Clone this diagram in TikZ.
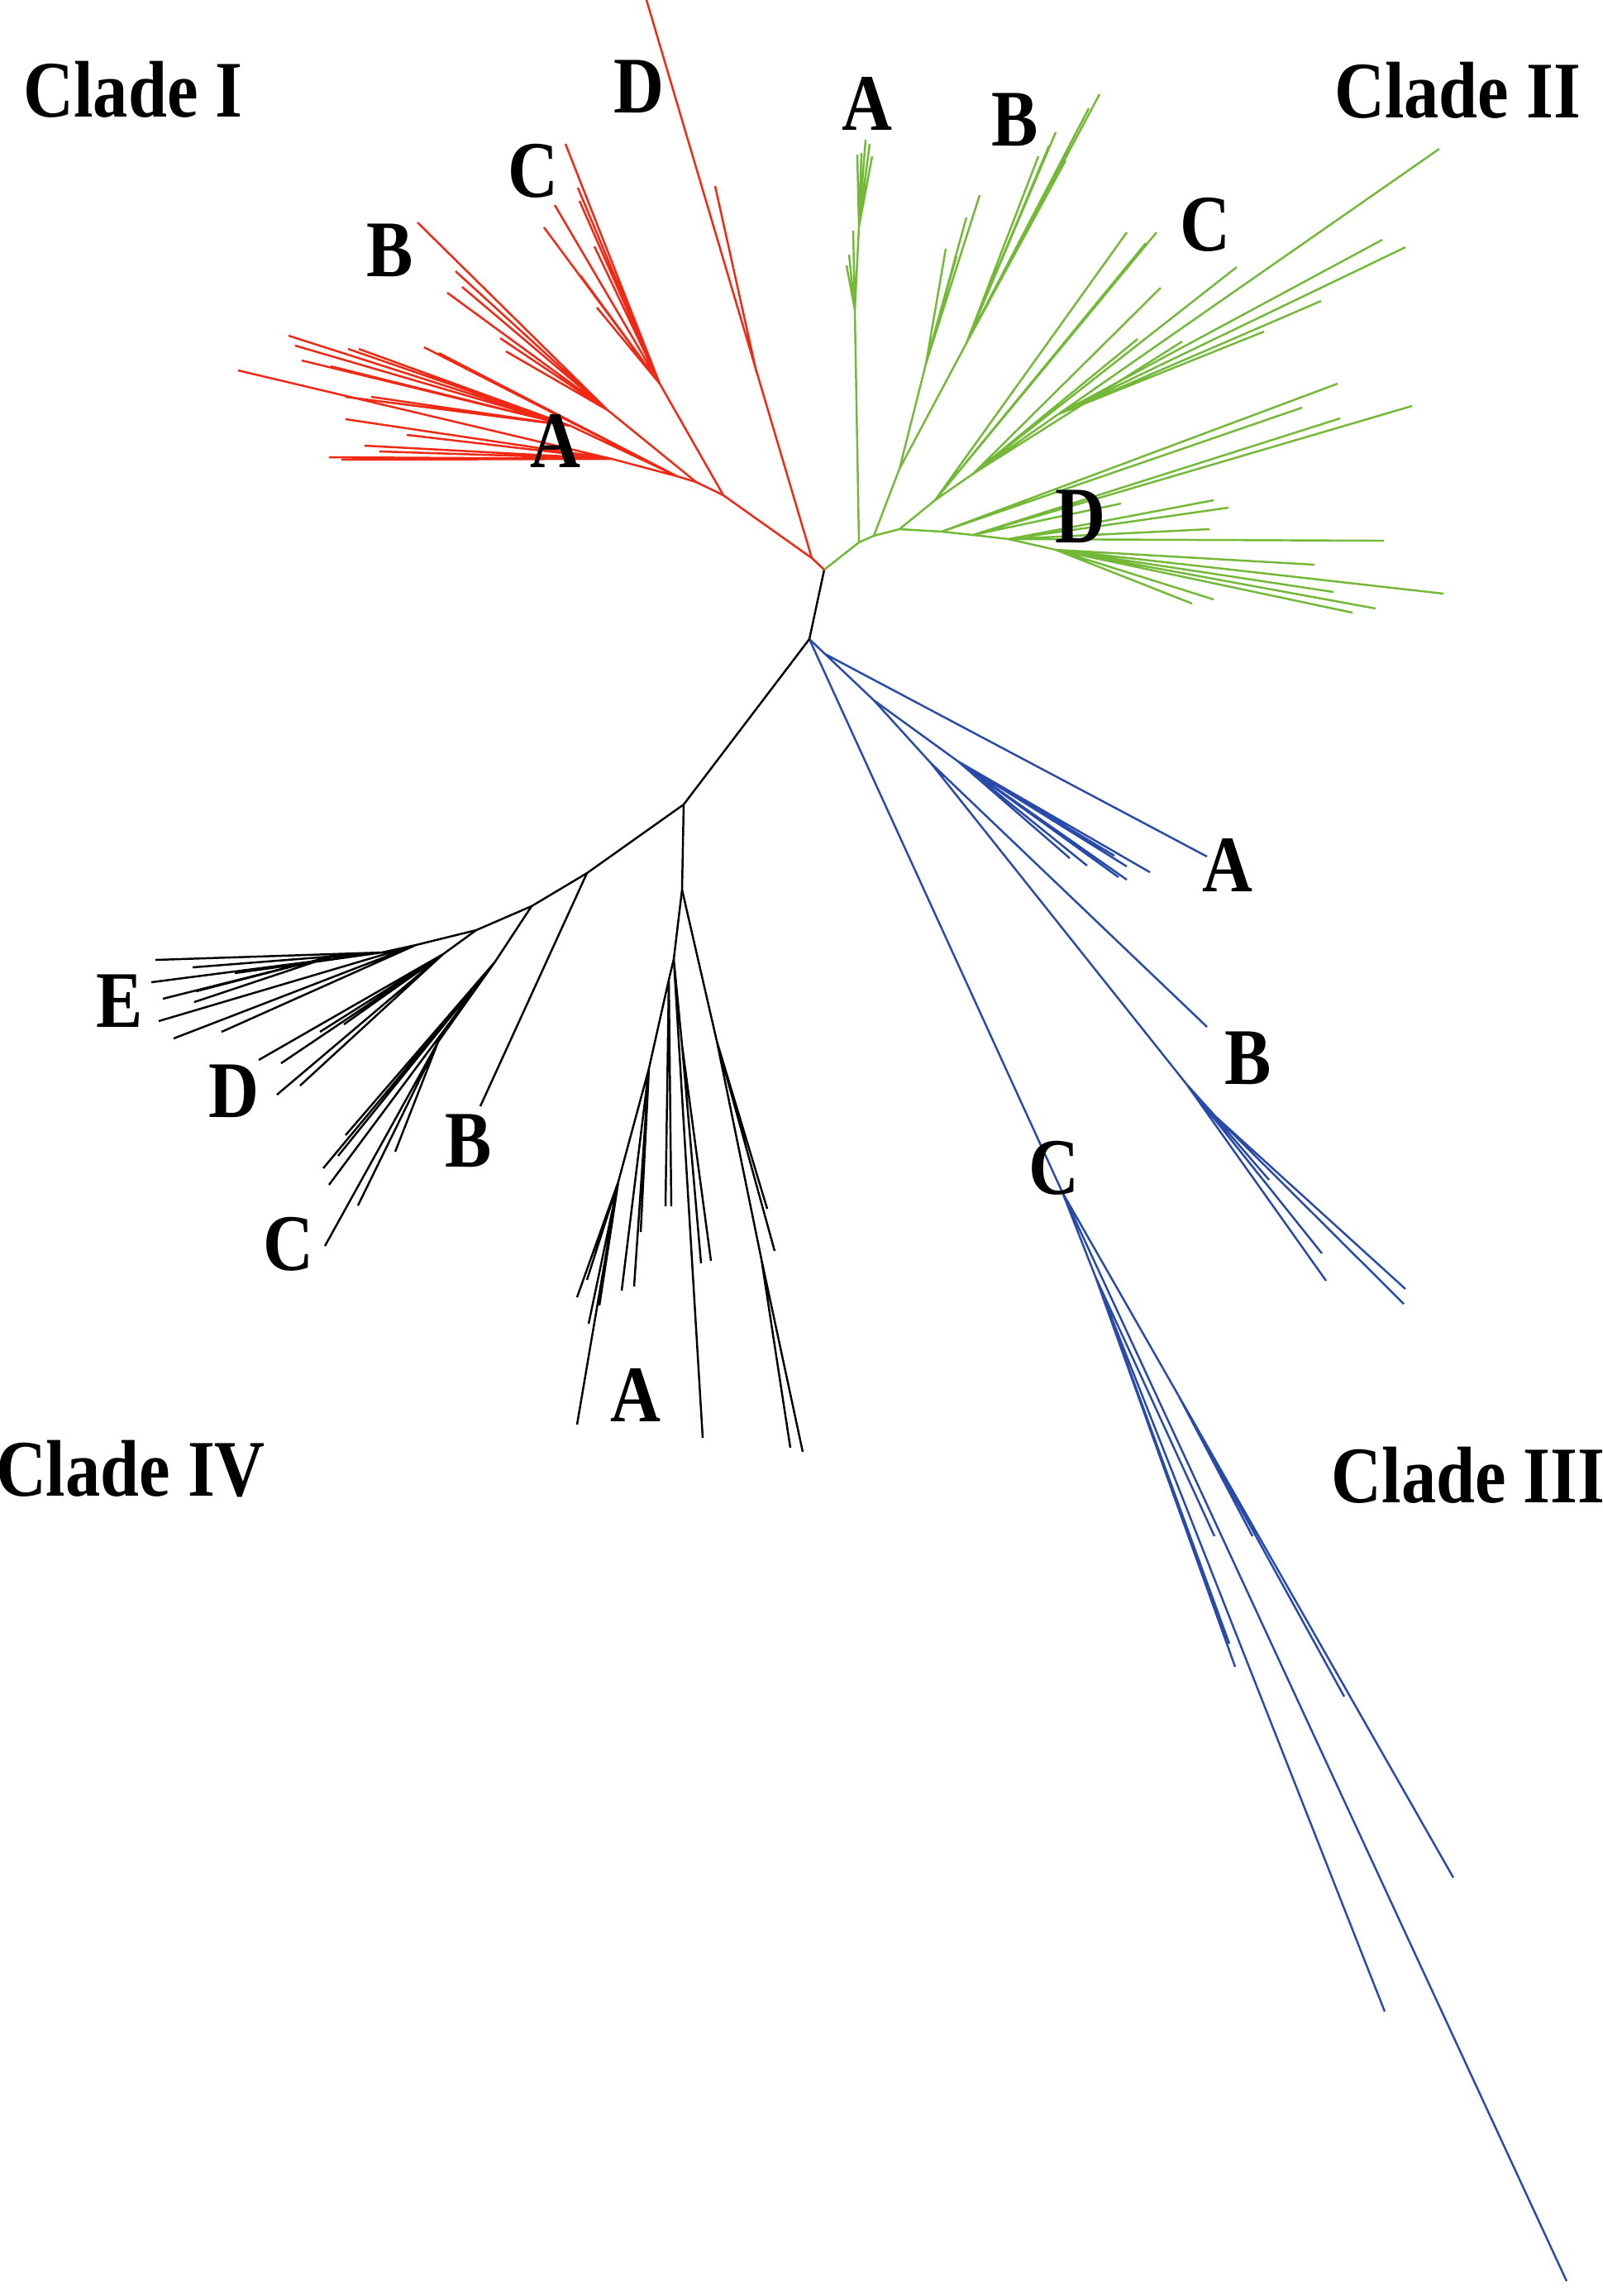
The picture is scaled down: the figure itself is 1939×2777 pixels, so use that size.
\documentclass[tikz,border=0pt]{standalone}
\usepackage{fontspec}
\setmainfont{Liberation Serif}

\definecolor{cladeRed}{RGB}{240,40,20}
\definecolor{cladeGreen}{RGB}{115,185,55}
\definecolor{cladeBlue}{RGB}{40,75,170}
\newcommand{\tall}[1]{\scalebox{1}[1.15]{#1}}

\tikzset{
  branch/.style={line width=0.7pt},
  tag/.style={font=\fontsize{24}{28}\selectfont\bfseries, inner sep=0pt},
}

\begin{document}
\begin{tikzpicture}[x=0.01cm, y=-0.01cm]
  \useasboundingbox (0,0) rectangle (1939,2777);

  % centre of the tree
  \coordinate (J1) at (997,689);
  \coordinate (J2) at (979,773);
  \draw[branch] (J1) -- (J2);

  % clade I
  \coordinate (rD) at (982,675);
  \coordinate (rDs) at (915,450);
  \coordinate (rC) at (875,599);
  \coordinate (rCn) at (798,464);
  \coordinate (rB) at (842,583);
  \coordinate (rBn) at (735,496);
  \coordinate (rA) at (819,576);
  \coordinate (rA1) at (690,515);
  \coordinate (rA2) at (740,555);
  \draw[branch,cladeRed] (J1) -- (rD) -- (rC) -- (rB) -- (rA);
  \draw[branch,cladeRed] (rD) -- (782,0) (rDs) -- (865,225);
  \draw[branch,cladeRed] (rC) -- (rCn) -- (684,174) (rCn) -- (699,227)
    (rCn) -- (701,243) (rCn) -- (719,298) (rCn) -- (671,248)
    (rCn) -- (658,275) (rCn) -- (702,333) (rCn) -- (722,372);
  \draw[branch,cladeRed] (rB) -- (rBn) -- (505,269) (rBn) -- (551,328)
    (rBn) -- (541,354) (rBn) -- (559,347) (rBn) -- (605,409)
    (rBn) -- (612,425);
  \draw[branch,cladeRed] (rA) -- (513,420) (rA) -- (531,427)
    (rA) -- (rA1) (rA) -- (rA2);
  \draw[branch,cladeRed] (rA1) -- (349,406) (rA1) -- (357,418)
    (rA1) -- (365,436) (rA1) -- (400,443) (rA1) -- (421,422)
    (rA1) -- (434,422) (rA1) -- (418,480) (rA1) -- (449,480);
  \draw[branch,cladeRed] (rA2) -- (288,448) (rA2) -- (398,553)
    (rA2) -- (413,556) (rA2) -- (418,507) (rA2) -- (441,539)
    (rA2) -- (459,546) (rA2) -- (492,526);

  % clade II
  \coordinate (G1) at (1039,656);
  \coordinate (G2) at (1057,648);
  \coordinate (G3) at (1088,640);
  \coordinate (gA) at (1034,375);
  \coordinate (gA2) at (1039,274);
  \coordinate (gBn) at (1088,567);
  \coordinate (gB1) at (1120,440);
  \coordinate (gB2) at (1169,415);
  \coordinate (gC1) at (1131,605);
  \coordinate (gC2) at (1177,573);
  \coordinate (gC3) at (1280,501);
  \coordinate (gD1) at (1139,643);
  \coordinate (gD2) at (1177,647);
  \coordinate (gD3) at (1220,652);
  \coordinate (gD4) at (1277,665);
  \draw[branch,cladeGreen] (J1) -- (G1) -- (G2) -- (G3);
  \draw[branch,cladeGreen] (G1) -- (gA) -- (1024,321) (gA) -- (1027,308)
    (gA) -- (1032,279) (gA) -- (gA2) -- (1037,187) (gA2) -- (1047,169)
    (gA2) -- (1052,174) (gA2) -- (1055,189) (gA2) -- (1042,185);
  \draw[branch,cladeGreen] (G2) -- (gBn) -- (gB1) -- (1185,236)
    (gB1) -- (1144,301) (gB1) -- (1169,263) (gB1) -- (1157,310);
  \draw[branch,cladeGreen] (gBn) -- (gB2) -- (1330,114) (gB2) -- (1317,131)
    (gB2) -- (1277,160) (gB2) -- (1256,189) (gB2) -- (1269,176)
    (gB2) -- (1289,194);
  \draw[branch,cladeGreen] (G3) -- (gC1) -- (gC2) -- (gC3)
    (gC1) -- (1363,281) (gC1) -- (1399,281) (gC1) -- (1386,294)
    (gC2) -- (1404,348) (gC2) -- (1430,413) (gC2) -- (1376,410)
    (gC2) -- (1496,323);
  \draw[branch,cladeGreen] (gC3) -- (1741,180) (gC3) -- (1672,290)
    (gC3) -- (1700,299) (gC3) -- (1598,364) (gC3) -- (1529,401);
  \draw[branch,cladeGreen] (G3) -- (gD1) -- (gD2) -- (gD3) -- (gD4);
  \draw[branch,cladeGreen] (gD1) -- (1618,464) (gD1) -- (1575,493)
    (gD2) -- (1708,491) (gD2) -- (1621,506) (gD2) -- (1356,609)
    (gD3) -- (1468,605) (gD3) -- (1486,614) (gD3) -- (1463,640)
    (gD3) -- (1674,654);
  \draw[branch,cladeGreen] (gD4) -- (1590,683) (gD4) -- (1746,718)
    (gD4) -- (1613,716) (gD4) -- (1664,736) (gD4) -- (1636,741)
    (gD4) -- (1468,725) (gD4) -- (1442,730);

  % clade III
  \coordinate (bA0) at (998,791);
  \coordinate (bQ1) at (1057,847);
  \coordinate (bQ2) at (1159,921);
  \coordinate (bB1) at (1126,923);
  \coordinate (bB2) at (1435,1311);
  \coordinate (bB3) at (1470,1350);
  \coordinate (bC) at (1285,1442);
  \coordinate (bC1) at (1425,1687);
  \coordinate (bC2) at (1325,1544);
  \draw[branch,cladeBlue] (J2) -- (bA0) -- (bQ1) (bA0) -- (1460,1036);
  \draw[branch,cladeBlue] (bQ1) -- (bQ2) -- (1294,1038) (bQ2) -- (1315,1047)
    (bQ2) -- (1353,1061) (bQ2) -- (1363,1064) (bQ2) -- (1363,1048)
    (bQ2) -- (1391,1055) (bQ2) -- (1348,1035);
  \draw[branch,cladeBlue] (bQ1) -- (bB1) -- (1460,1242) (bB1) -- (bB2)
    (bB2) -- (1535,1427) (bB2) -- (1599,1516) (bB2) -- (1604,1549)
    (bB2) -- (bB3) -- (1700,1559) (bB3) -- (1698,1577);
  \draw[branch,cladeBlue] (J2) -- (bC) -- (1895,2759) (bC) -- (bC1) (bC) -- (bC2);
  \draw[branch,cladeBlue] (bC1) -- (1758,2271) (bC1) -- (1626,2052)
    (bC1) -- (1515,1858);
  \draw[branch,cladeBlue] (bC2) -- (1675,2433) (bC2) -- (1494,2016)
    (bC2) -- (1487,1988) (bC2) -- (1469,1858);

  % clade IV
  \coordinate (K1) at (827,973);
  \coordinate (K2) at (825,1076);
  \coordinate (K3) at (710,1056);
  \coordinate (K4) at (643,1096);
  \coordinate (K5) at (576,1125);
  \coordinate (K6) at (503,1143);
  \coordinate (kC) at (599,1163);
  \coordinate (kC2) at (530,1260);
  \coordinate (kD) at (536,1154);
  \coordinate (kE1) at (462,1152);
  \coordinate (kE2) at (400,1157);
  \coordinate (kA1) at (815,1160);
  \coordinate (kA2) at (809,1185);
  \coordinate (kA3) at (785,1292);
  \coordinate (kA4) at (748,1429);
  \coordinate (kA5) at (867,1259);
  \coordinate (kA6) at (921,1523);
  \coordinate (kA7) at (825,1264);
  \draw[branch] (J2) -- (K1) -- (K3) -- (K4) -- (K5) -- (K6) (K1) -- (K2);
  \draw[branch] (K3) -- (581,1338);
  \draw[branch] (K4) -- (kC) -- (418,1373) (kC) -- (409,1398)
    (kC) -- (391,1413) (kC) -- (398,1433) (kC) -- (kC2)
    (kC2) -- (393,1507) (kC2) -- (398,1498) (kC2) -- (433,1458)
    (kC2) -- (478,1393);
  \draw[branch] (K5) -- (kD) -- (313,1282) (kD) -- (340,1286)
    (kD) -- (335,1324) (kD) -- (363,1313) (kD) -- (387,1248)
    (kD) -- (416,1239);
  \draw[branch] (K6) -- (192,1235) (K6) -- (210,1256) (K6) -- (268,1248)
    (K6) -- (kE1) -- (kE2) (kE1) -- (188,1161) (kE1) -- (233,1170)
    (kE1) -- (284,1177) (kE1) -- (183,1188) (kE2) -- (197,1208)
    (kE2) -- (235,1212) (kE2) -- (237,1199);
  \draw[branch] (K2) -- (kA1) -- (kA2) -- (kA3) -- (kA4)
    (kA4) -- (698,1569) (kA4) -- (710,1548) (kA4) -- (712,1601)
    (kA4) -- (698,1723) (kA4) -- (725,1579)
    (kA3) -- (752,1561) (kA3) -- (767,1556) (kA3) -- (775,1490)
    (kA2) -- (805,1459) (kA2) -- (812,1459);
  \draw[branch] (kA1) -- (850,1739) (kA1) -- (kA7) -- (860,1525)
    (kA7) -- (848,1528);
  \draw[branch] (K2) -- (kA5) -- (kA6) -- (971,1756) (kA6) -- (956,1751)
    (kA5) -- (937,1513) (kA5) -- (928,1462);

  % labels
  \node[tag] (cladeI) at (161,108) {\tall{Clade I}};
  \node[tag] (cladeII) at (1763,109) {\tall{Clade II}};
  \node[tag] (cladeIII) at (1776,1784) {\tall{Clade III}};
  \node[tag] (cladeIV) at (158,1777) {\tall{Clade IV}};
  \node[tag] (IA) at (672,533) {\tall{A}};
  \node[tag] (IB) at (472,303) {\tall{B}};
  \node[tag] (IC) at (645,207) {\tall{C}};
  \node[tag] (ID) at (773,105) {\tall{D}};
  \node[tag] (IIA) at (1049,125) {\tall{A}};
  \node[tag] (IIB) at (1228,145) {\tall{B}};
  \node[tag] (IIC) at (1458,272) {\tall{C}};
  \node[tag] (IID) at (1307,625) {\tall{D}};
  \node[tag] (IIIA) at (1485,1046) {\tall{A}};
  \node[tag] (IIIB) at (1510,1280) {\tall{B}};
  \node[tag] (IIIC) at (1275,1413) {\tall{C}};
  \node[tag] (IVA) at (769,1687) {\tall{A}};
  \node[tag] (IVB) at (567,1380) {\tall{B}};
  \node[tag] (IVC) at (349,1505) {\tall{C}};
  \node[tag] (IVD) at (283,1320) {\tall{D}};
  \node[tag] (IVE) at (145,1211) {\tall{E}};
\end{tikzpicture}
\end{document}
